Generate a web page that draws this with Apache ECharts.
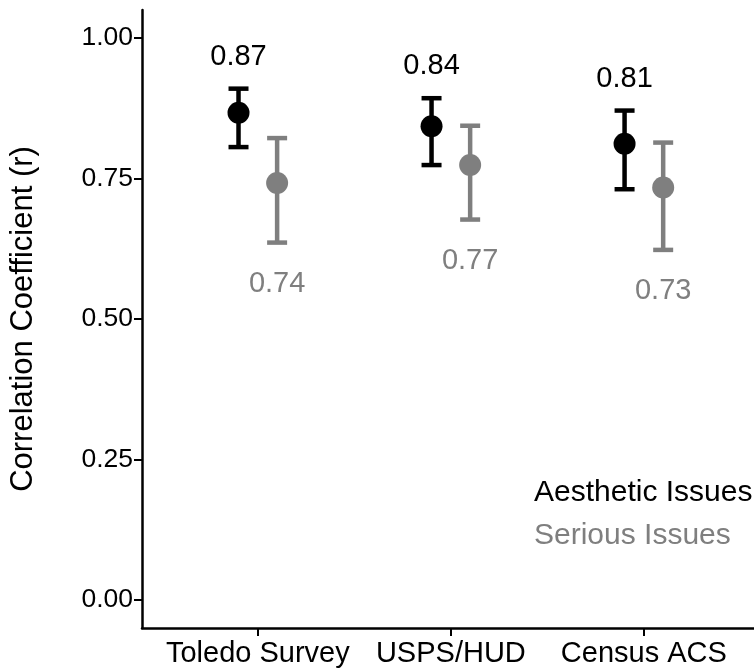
<!DOCTYPE html>
<html>
<head>
<meta charset="utf-8">
<script src="https://cdn.jsdelivr.net/npm/echarts@6/dist/echarts.min.js"></script>
<style>
html,body{margin:0;padding:0;background:#fff;}
#chart{width:754px;height:670px;}
</style>
</head>
<body>
<div id="chart"></div>
<script>
// ---- data ----
const categories = ['Toledo Survey', 'USPS/HUD', 'Census ACS'];
const seriesNames = ['Aesthetic Issues', 'Serious Issues'];
const aestheticR  = [0.867, 0.843, 0.812];
const aestheticLo = [0.806, 0.774, 0.731];
const aestheticHi = [0.910, 0.893, 0.871];
const seriousR    = [0.742, 0.774, 0.734];
const seriousLo   = [0.636, 0.677, 0.623];
const seriousHi   = [0.822, 0.844, 0.814];
const yTicks = [0, 0.25, 0.5, 0.75, 1.0];

// ---- style ----
const FONT = "'Liberation Sans', Arial, sans-serif";
const BLACK = '#000000';
const GREY = '#7f7f7f';
const DODGE = 0.1;

const chart = echarts.init(document.getElementById('chart'));

function groupData(r, lo, hi, shift) {
  return categories.map((c, i) => [i + 1 + shift, lo[i], hi[i], r[i]]);
}

function makeErrorSeries(name, color, data, labelAbove) {
  return {
    name: name,
    type: 'custom',
    z: 2,
    encode: { x: 0, y: [1, 2] },
    data: data,
    renderItem: function (params, api) {
      const x = api.value(0);
      const lo = api.coord([x, api.value(1)]);
      const hi = api.coord([x, api.value(2)]);
      const half = 10;
      const ls = { stroke: color, lineWidth: 4.5 };
      const lbl = labelAbove
        ? { x: hi[0], y: hi[1] - 32 }
        : { x: lo[0], y: lo[1] + 41 };
      return {
        type: 'group',
        children: [
          { type: 'line', shape: { x1: lo[0], y1: lo[1], x2: hi[0], y2: hi[1] }, style: ls },
          { type: 'line', shape: { x1: hi[0] - half, y1: hi[1], x2: hi[0] + half, y2: hi[1] }, style: ls },
          { type: 'line', shape: { x1: lo[0] - half, y1: lo[1], x2: lo[0] + half, y2: lo[1] }, style: ls },
          { type: 'text', x: lbl.x, y: lbl.y, style: {
              text: api.value(3).toFixed(2), fill: color, font: '29px ' + FONT,
              align: 'center', verticalAlign: 'middle' } }
        ]
      };
    }
  };
}

function makePointSeries(name, color, data) {
  return {
    name: name,
    type: 'scatter',
    z: 3,
    symbol: 'circle',
    symbolSize: 22,
    itemStyle: { color: color, opacity: 1 },
    encode: { x: 0, y: 3 },
    data: data,
    silent: true
  };
}

const aData = groupData(aestheticR, aestheticLo, aestheticHi, -DODGE);
const sData = groupData(seriousR, seriousLo, seriousHi, DODGE);

const option = {
  backgroundColor: '#ffffff',
  animation: false,
  textStyle: { fontFamily: FONT },
  grid: { left: 140.5, right: 0, top: 10, bottom: 42, containLabel: false },
  legend: {
    orient: 'vertical',
    left: 524,
    top: 473,
    icon: 'none',
    itemWidth: 0,
    itemHeight: 14,
    itemGap: 13,
    selectedMode: false,
    textStyle: { fontSize: 30, fontFamily: FONT },
    data: [
      { name: seriesNames[0], textStyle: { color: BLACK } },
      { name: seriesNames[1], textStyle: { color: GREY } }
    ]
  },
  xAxis: {
    type: 'value',
    min: 0.4,
    max: 0.4 + (754 - 140.5) / 193.5,
    splitLine: { show: false },
    axisLine: { show: true, onZero: false, lineStyle: { color: BLACK, width: 2.5 } },
    axisTick: { show: true, length: 8, lineStyle: { color: BLACK, width: 2 },
      customValues: categories.map((c, i) => i + 1) },
    axisLabel: { show: true, color: BLACK, fontSize: 29, margin: 11, fontFamily: FONT,
      customValues: categories.map((c, i) => i + 1),
      formatter: v => categories[Math.round(v) - 1] || '' }
  },
  yAxis: {
    type: 'value',
    min: -0.05,
    max: 1.05,
    name: 'Correlation Coefficient (r)',
    nameLocation: 'middle',
    nameGap: 103,
    nameTextStyle: { fontSize: 31, color: BLACK, fontFamily: FONT },
    splitLine: { show: false },
    axisLine: { show: true, onZero: false, lineStyle: { color: BLACK, width: 2.5 } },
    axisTick: { show: true, length: 8, lineStyle: { color: BLACK, width: 2 }, customValues: yTicks },
    axisLabel: { show: true, color: BLACK, fontSize: 26.5, margin: 9, fontFamily: FONT,
      customValues: yTicks, formatter: v => v.toFixed(2) }
  },
  series: [
    makeErrorSeries(seriesNames[0], BLACK, aData, true),
    makeErrorSeries(seriesNames[1], GREY, sData, false),
    makePointSeries(seriesNames[0], BLACK, aData),
    makePointSeries(seriesNames[1], GREY, sData)
  ]
};
chart.setOption(option);
</script>
</body>
</html>
